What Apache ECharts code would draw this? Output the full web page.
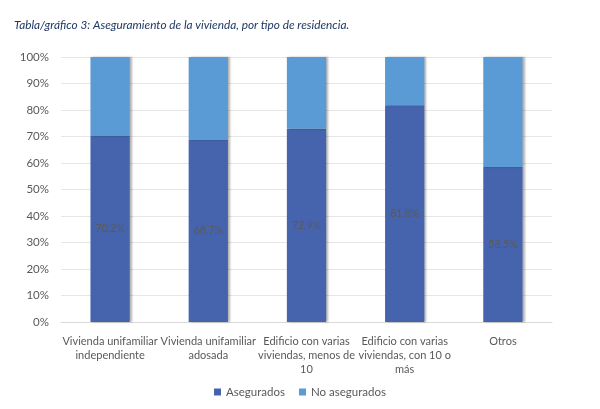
<!DOCTYPE html>
<html><head><meta charset="utf-8">
<script src="https://cdn.jsdelivr.net/npm/echarts@6/dist/echarts.min.js"></script>
<style>html,body{margin:0;padding:0;background:#fff}#c{width:600px;height:409px}</style>
</head><body><div id="c"></div>
<script>
const categories = ["Vivienda unifamiliar\nindependiente","Vivienda unifamiliar\nadosada","Edificio con varias\nviviendas, menos de\n10","Edificio con varias\nviviendas, con 10 o\nmás","Otros"];
const asegurados = [70.2, 68.7, 72.9, 81.8, 58.5];
const noAsegurados = [29.8, 31.3, 27.1, 18.2, 41.5];
const yTicks = [0,10,20,30,40,50,60,70,80,90,100];
const font = "Lato";
const chart = echarts.init(document.getElementById('c'));
const shadow = {shadowColor:'rgba(0,0,0,0.3)', shadowBlur:2, shadowOffsetX:2, shadowOffsetY:0};
chart.setOption({
  animation:false,
  title:{text:'Tabla/gráfico 3: Aseguramiento de la vivienda, por tipo de residencia.', left:9, top:14,
    textStyle:{fontFamily:font, fontStyle:'italic', fontWeight:'normal', fontSize:11.8, color:'#1f3864'}},
  grid:{left:61, right:48, top:57, bottom:87},
  legend:{bottom:6, left:'center', itemWidth:7, itemHeight:7, itemGap:14, icon:'rect',
    textStyle:{fontFamily:font, fontSize:11.5, color:'#595959'}},
  xAxis:{type:'category', data:categories,
    axisLine:{lineStyle:{color:'#d9d9d9'}}, axisTick:{show:false},
    axisLabel:{interval:0, fontFamily:font, fontSize:11, color:'#595959', lineHeight:14, margin:12, overflow:'none'}},
  yAxis:{type:'value', min:0, max:100, interval:10,
    axisLabel:{formatter:v=>yTicks.includes(v)?v+'%':'', fontFamily:font, fontSize:11.5, color:'#595959', margin:12},
    splitLine:{lineStyle:{color:'#e6e6e6'}}, axisLine:{show:false}, axisTick:{show:false}},
  series:[
    {name:'Asegurados', type:'bar', stack:'a', barWidth:'40%', data:asegurados,
      itemStyle:Object.assign({color:'#4664ae'}, shadow),
      label:{show:true, position:'inside', formatter:p=>p.value.toFixed(1).replace('.',',')+'%',
        fontFamily:font, fontSize:10.5, color:'#595959'}},
    {name:'No asegurados', type:'bar', stack:'a', barWidth:'40%', data:noAsegurados,
      itemStyle:Object.assign({color:'#5b9bd5'}, shadow)}
  ]
});
</script></body></html>
